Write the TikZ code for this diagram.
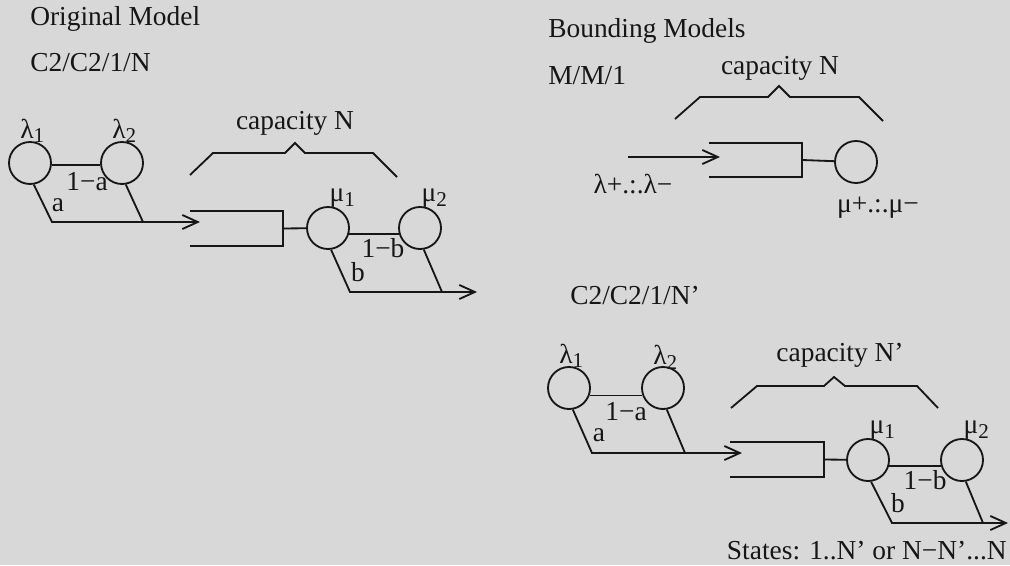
\documentclass[tikz,border=0pt]{standalone}
\usepackage{fontspec}
\setmainfont{Liberation Serif}
\usepackage{tikz}
\usetikzlibrary{arrows.meta, positioning}
\definecolor{paperbg}{HTML}{D8D8D8}
\definecolor{inkline}{HTML}{161616}
\tikzset{
  srv/.style={draw=inkline, circle, line width=1.3pt, minimum size=1.05cm, inner sep=0pt},
  qbox/.style={rectangle, minimum width=2.325cm, minimum height=0.85cm, inner sep=0pt},
  qline/.style={draw=inkline, line width=1.3pt},
  flow/.style={-{Straight Barb[length=11pt,width=10pt]}, line width=1.3pt, draw=inkline},
  rate/.style={font=\fontsize{19.5}{22}\selectfont, inner sep=0pt, anchor=base west, inkline},
  prob/.style={font=\fontsize{19.5}{22}\selectfont, inner sep=0pt, inkline},
  ttl/.style={font=\fontsize{19.5}{22}\selectfont, inner sep=0pt, anchor=base west, inkline},
}
\newcommand{\sub}[1]{\raisebox{-0.35ex}{\fontsize{15}{17}\selectfont #1}}

\begin{document}
\begin{tikzpicture}[x=0.025cm, y=-0.025cm]

  \fill[paperbg] (0,0) rectangle (1010,565);
  \useasboundingbox (0,0) rectangle (1010,565);

  %% ── Original model (left) ────────────────────────────────────────────────

  \node[ttl] (torig) at (30,26) {Original Model};
  \node[ttl] (tcca) at (30,71) {C2/C2/1/N};

  % arrival phases
  \node[srv] (la1) at (30,163) {};
  \node[srv] (la2) at (122,163) {};
  \node[rate, xshift=-7pt, yshift=2pt] at (la1.north) {λ\sub{1}};
  \node[rate, xshift=-7pt, yshift=2pt] at (la2.north) {λ\sub{2}};
  \coordinate (aa) at (52,222);
  \coordinate (ab) at (143,222);
  \coordinate (ain) at (200,222);
  \draw[qline] (la1.-5) -- (la2.185);
  \node[prob] at (87,182) {1−a};
  \draw[flow] (la1.-80) -- (aa) -- (ain);
  \draw[qline] (la2.-80) -- (ab);
  \node[prob] at (58,205) {a};

  % buffer
  \node[qbox] (qa) at (236.5,228.5) {};
  \draw[qline] (qa.north west) -- (qa.north east) -- (qa.south east) -- (qa.south west);
  \draw[qline] (190,175) -- (213,153) -- (285,153) -- (295,143) -- (305,153) -- (373,153) -- (397,177);
  \node[prob] at (295,123) {capacity N};

  % service phases
  \node[srv] (ma1) at (328,228) {};
  \node[srv] (ma2) at (420,228) {};
  \node[rate, xshift=1pt, yshift=3pt] at (ma1.north) {μ\sub{1}};
  \node[rate, xshift=1pt, yshift=3pt] at (ma2.north) {μ\sub{2}};
  \draw[qline] (qa.east) -- (ma1);
  \coordinate (ma) at (350,292);
  \coordinate (mb) at (442,292);
  \coordinate (aout) at (477,292);
  \draw[qline] (ma1.-15) -- (ma2.195);
  \node[prob] at (383,248) {1−b};
  \draw[flow] (ma1.-82) -- (ma) -- (aout);
  \draw[qline] (ma2.-80) -- (mb);
  \node[prob] at (358,272) {b};

  %% ── Bounding models: M/M/1 (upper right) ────────────────────────────────

  \node[ttl] (tbnd) at (548,38) {Bounding Models};
  \node[ttl] (tmm) at (548,85) {M/M/1};

  \node[qbox] (qb) at (755.5,160) {};
  \draw[qline] (qb.north west) -- (qb.north east) -- (qb.south east) -- (qb.south west);
  \coordinate (bin0) at (628,157);
  \coordinate (bin) at (720,157);
  \draw[flow] (bin0) -- (bin);
  \node[prob] at (633,184) {λ+.:.λ−};
  \node[srv] (mb1) at (856,162) {};
  \draw[qline] (qb.east) -- (mb1);
  \node[prob] at (878,208) {μ+.:.μ−};
  \draw[qline] (675,119) -- (700,97) -- (768,97) -- (779,86) -- (790,97) -- (859,97) -- (883,121);
  \node[prob] at (780,68) {capacity N};

  %% ── Bounding models: C2/C2/1/N' (lower right) ────────────────────────────

  \node[ttl] (tccb) at (570,304) {C2/C2/1/N'};

  \node[srv] (lc1) at (569,388) {};
  \node[srv] (lc2) at (663,388) {};
  \node[rate, xshift=-7pt, yshift=2pt] at (lc1.north) {λ\sub{1}};
  \node[rate, xshift=-7pt, yshift=1pt] at (lc2.north) {λ\sub{2}};
  \coordinate (ca) at (592,453);
  \coordinate (cb) at (685,453);
  \coordinate (cin) at (742,453);
  \draw[qline] (lc1.-20) -- (lc2.200);
  \node[prob] at (626,412) {1−a};
  \draw[flow] (lc1.-80) -- (ca) -- (cin);
  \draw[qline] (lc2.-80) -- (cb);
  \node[prob] at (599,435) {a};

  \node[qbox] (qc) at (777,459.5) {};
  \draw[qline] (qc.north west) -- (qc.north east) -- (qc.south east) -- (qc.south west);
  \draw[qline] (731,408) -- (757,386) -- (824,386) -- (834,377) -- (845,386) -- (917,386) -- (938,408);
  \node[prob] at (840,355) {capacity N'};

  \node[srv] (mc1) at (868,460) {};
  \node[srv] (mc2) at (962,460) {};
  \node[rate, xshift=1pt, yshift=3pt] at (mc1.north) {μ\sub{1}};
  \node[rate, xshift=1pt, yshift=3pt] at (mc2.north) {μ\sub{2}};
  \draw[qline] (qc.east) -- (mc1);
  \coordinate (mca) at (892,523);
  \coordinate (mcb) at (983,523);
  \coordinate (cout) at (1008,523);
  \draw[qline] (mc1.-15) -- (mc2.195);
  \node[prob] at (925,480) {1−b};
  \draw[flow] (mc1.-82) -- (mca) -- (cout);
  \draw[qline] (mc2.-80) -- (mcb);
  \node[prob] at (898,503) {b};

  \node[ttl, anchor=base east] (tstates) at (1007,559) {States: 1..N' or N−N'...N};

\end{tikzpicture}
\end{document}
